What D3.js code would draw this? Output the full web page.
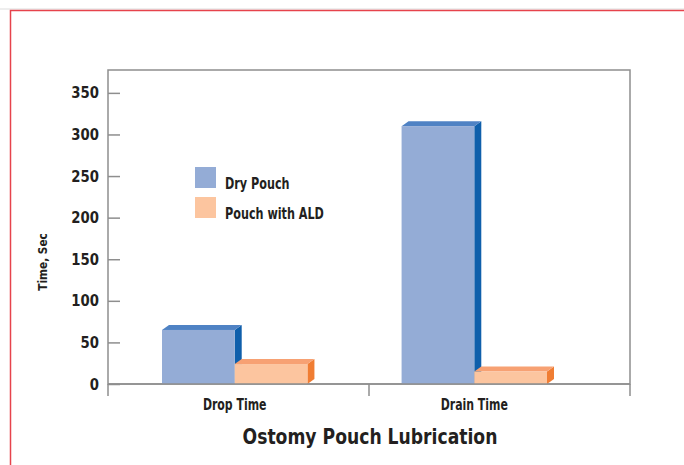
<!DOCTYPE html>
<html>
<head>
<meta charset="utf-8">
<script src="https://cdn.jsdelivr.net/npm/d3@7"></script>
<style>
  body { margin: 0; background: #fff; }
  text { font-family: "Liberation Sans Narrow", "DejaVu Sans Condensed", "Roboto", sans-serif; font-weight: bold; fill: #231f20; }
</style>
</head>
<body>
<div id="chart"></div>
<script>
// data
var categories = ["Drop Time", "Drain Time"];
var series = ["Dry Pouch", "Pouch with ALD"];
var dryPouch = [65, 310];
var pouchALD = [24, 15];
var yTicks = [0, 50, 100, 150, 200, 250, 300, 350];

var W = 684, H = 465;
var frame = {left: 108, right: 630, top: 70, bottom: 384};
var depthX = 7, depthY = 5;

var colors = {
  "Dry Pouch": {front: "#94acd6", top: "#4f82c4", side: "#0f5fab"},
  "Pouch with ALD": {front: "#fcc59f", top: "#f7a173", side: "#f07d33"}
};

// squeeze text horizontally to mimic the condensed face
function condense(sel, f) {
  sel.each(function() {
    var len = this.getComputedTextLength();
    d3.select(this).attr("textLength", len * f).attr("lengthAdjust", "spacingAndGlyphs");
  });
}

var svg = d3.select("#chart").append("svg")
  .attr("width", W)
  .attr("height", H);

// red page border (top + left)
svg.append("line").attr("x1", 0).attr("x2", W).attr("y1", 9).attr("y2", 9)
  .attr("stroke", "#ddd").attr("stroke-width", 1);
svg.append("path")
  .attr("d", "M10.5," + H + "V10.5H" + W)
  .attr("fill", "none").attr("stroke", "#e6434c").attr("stroke-width", 1.5);

// scales
var y = d3.scaleLinear().domain([0, 377.5]).range([frame.bottom, frame.top]);

var xFrame = d3.scaleBand().domain(categories).range([frame.left, frame.right]);

var x0 = d3.scaleBand().domain(categories).range([162, 547]).paddingInner(0.393).paddingOuter(0);
var x1 = d3.scaleBand().domain(series).range([0, x0.bandwidth()]);

// frame
svg.append("rect")
  .attr("x", frame.left).attr("y", frame.top)
  .attr("width", frame.right - frame.left).attr("height", frame.bottom - frame.top)
  .attr("fill", "none").attr("stroke", "#8e8e8e").attr("stroke-width", 1.5);

// category separators below the axis
var seps = categories.map(function(c) { return xFrame(c); }).concat([frame.right]);
svg.selectAll(".sep").data(seps).enter().append("line")
  .attr("x1", function(d) { return d; }).attr("x2", function(d) { return d; })
  .attr("y1", frame.bottom).attr("y2", frame.bottom + 12)
  .attr("stroke", "#8e8e8e").attr("stroke-width", 1.5);

// y axis
var yAxis = d3.axisLeft(y).tickValues(yTicks).tickSizeInner(-12).tickSizeOuter(0).tickPadding(9);
var gy = svg.append("g")
  .attr("transform", "translate(" + frame.left + ",0)")
  .call(yAxis);
gy.select(".domain").remove();
gy.selectAll(".tick line").attr("stroke", "#8e8e8e").attr("stroke-width", 1.5);
gy.selectAll(".tick text").style("font-size", "16px").attr("fill", "#231f20")
  .call(condense, 0.92);

// bars
var rows = categories.map(function(c, i) {
  return {cat: c, values: [
    {key: series[0], value: dryPouch[i]},
    {key: series[1], value: pouchALD[i]}
  ]};
});

var groups = svg.selectAll(".grp").data(rows).enter().append("g")
  .attr("class", "grp")
  .attr("transform", function(d) { return "translate(" + x0(d.cat) + ",0)"; });

var bars = groups.selectAll(".bar").data(function(d) { return d.values; }).enter().append("g")
  .attr("class", "bar");

// side face
bars.append("path")
  .attr("d", function(d) {
    var xr = x1(d.key) + x1.bandwidth(), yt = y(d.value), yb = y(0);
    return "M" + xr + "," + yt + "L" + (xr + depthX) + "," + (yt - depthY) +
      "L" + (xr + depthX) + "," + (yb - depthY) + "L" + xr + "," + yb + "Z";
  })
  .attr("fill", function(d) { return colors[d.key].side; });

// top face
bars.append("path")
  .attr("d", function(d) {
    var xl = x1(d.key), xr = xl + x1.bandwidth(), yt = y(d.value);
    return "M" + xl + "," + yt + "L" + (xl + depthX) + "," + (yt - depthY) +
      "L" + (xr + depthX) + "," + (yt - depthY) + "L" + xr + "," + yt + "Z";
  })
  .attr("fill", function(d) { return colors[d.key].top; });

// front face
bars.append("rect")
  .attr("x", function(d) { return x1(d.key); })
  .attr("y", function(d) { return y(d.value); })
  .attr("width", x1.bandwidth())
  .attr("height", function(d) { return y(0) - y(d.value); })
  .attr("fill", function(d) { return colors[d.key].front; });

// redraw bottom axis line on top of bars
svg.append("line")
  .attr("x1", frame.left).attr("x2", frame.right)
  .attr("y1", frame.bottom).attr("y2", frame.bottom)
  .attr("stroke", "#8e8e8e").attr("stroke-width", 1.5);

// category labels
svg.selectAll(".catlab").data(categories).enter().append("text")
  .attr("x", function(d) { return x0(d) + x0.bandwidth() / 2; })
  .attr("y", 410)
  .attr("text-anchor", "middle")
  .style("font-size", "15px")
  .text(function(d) { return d; })
  .call(condense, 0.81);

// legend
var legend = svg.selectAll(".leg").data(series).enter().append("g")
  .attr("transform", function(d, i) { return "translate(195," + (167 + i * 30) + ")"; });
legend.append("rect")
  .attr("width", 21).attr("height", 21)
  .attr("fill", function(d) { return colors[d].front; });
legend.append("text")
  .attr("x", 30).attr("y", 22)
  .style("font-size", "15px")
  .text(function(d) { return d; })
  .call(condense, 0.83);

// y title
svg.append("text")
  .attr("transform", "translate(47,262) rotate(-90)")
  .attr("text-anchor", "middle")
  .style("font-size", "13px")
  .text("Time, Sec")
  .call(condense, 0.9);

// chart title
svg.append("text")
  .attr("x", 370).attr("y", 444)
  .attr("text-anchor", "middle")
  .style("font-size", "21px")
  .text("Ostomy Pouch Lubrication")
  .call(condense, 0.91);
</script>
</body>
</html>
